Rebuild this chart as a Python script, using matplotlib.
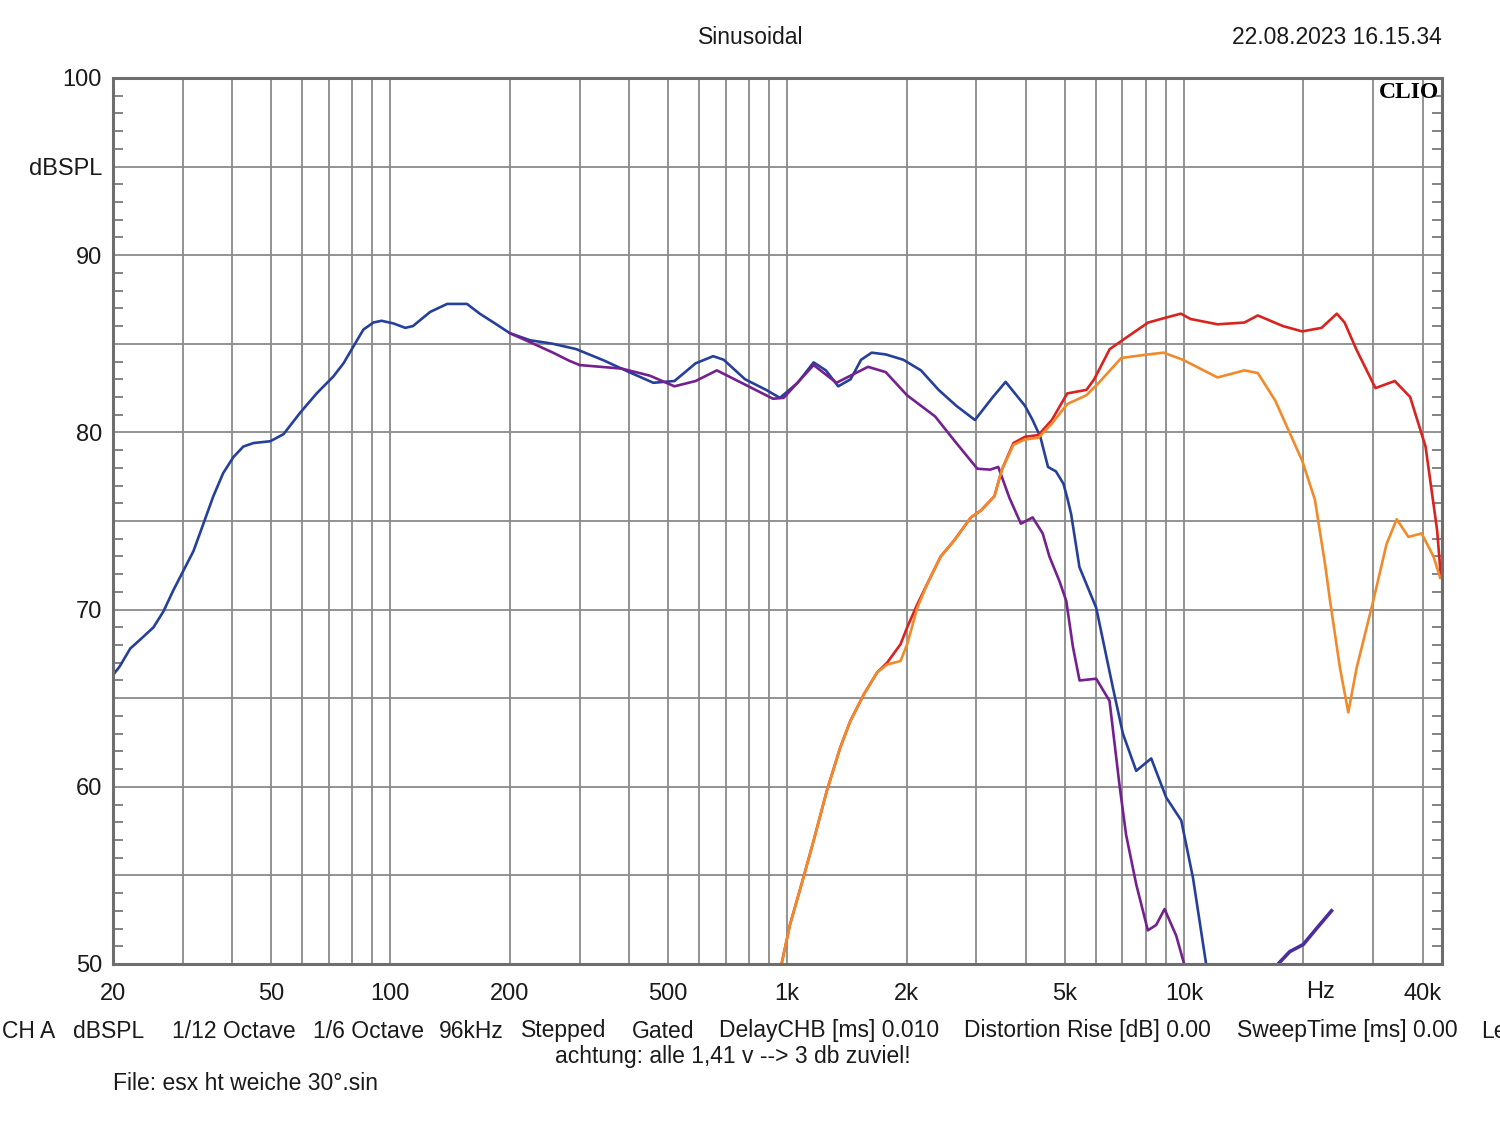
import numpy as np
import matplotlib
matplotlib.use("Agg")
import matplotlib.pyplot as plt
from matplotlib.ticker import FixedLocator, MultipleLocator

plt.rcParams['font.family'] = ['Liberation Sans', 'DejaVu Sans']

# ---- data (Hz, dBSPL) ----
blue_freq = [20, 20.8, 22.1, 23.4, 25.3, 26.8, 28.4, 30.1, 31.9, 33.8, 35.8, 37.9, 40.2, 42.6,
             45.2, 49.8, 53.8, 59.2, 65.2, 71.8, 76.2, 80.7, 85.5, 90.6, 95, 101.8, 109, 114,
             126, 139, 156, 168, 185, 200, 225, 257, 294, 346, 400, 460, 520, 588, 651, 692,
             783, 885, 959, 1063, 1166, 1252, 1345, 1445, 1536, 1633, 1772, 1962, 2174, 2408,
             2669, 2973, 3300, 3553, 3975, 4155, 4346, 4543, 4757, 4970, 5094, 5195, 5452,
             5664, 6010, 6620, 7017, 7580, 8270, 9020, 9845, 10540, 11390, 11800]
blue_db = [66.3, 66.8, 67.8, 68.3, 69.0, 69.9, 71.1, 72.2, 73.3, 74.85, 76.4, 77.7, 78.6, 79.2,
           79.4, 79.5, 79.9, 81.1, 82.2, 83.15, 83.9, 84.85, 85.8, 86.2, 86.3, 86.15, 85.9, 86.0,
           86.8, 87.25, 87.25, 86.7, 86.1, 85.6, 85.2, 85.0, 84.7, 84.05, 83.4, 82.8, 82.9, 83.9,
           84.3, 84.1, 83.0, 82.4, 81.95, 82.8, 83.95, 83.5, 82.6, 83.0, 84.1, 84.5, 84.4, 84.1,
           83.5, 82.4, 81.5, 80.7, 82.0, 82.85, 81.5, 80.7, 79.75, 78.05, 77.8, 77.1, 76.2, 75.4,
           72.4, 71.5, 70.1, 65.6, 63.0, 60.9, 61.6, 59.4, 58.1, 54.85, 49.9, 48.0]

purple_freq = [200, 224.5, 257, 282, 300, 383, 451, 520, 588, 665, 783, 921, 980, 1166, 1331,
               1599, 1772, 2004, 2360, 2669, 3015, 3250, 3404, 3633, 3882, 4157, 4405, 4580,
               4856, 5050, 5250, 5456, 6010, 6492, 6879, 7147, 7580, 8110, 8510, 8935, 9560,
               10040, 10300]
purple_db = [85.6, 85.1, 84.5, 84.05, 83.8, 83.6, 83.2, 82.6, 82.9, 83.5, 82.7, 81.9, 81.95, 83.8,
             82.8, 83.7, 83.4, 82.1, 80.9, 79.4, 77.95, 77.9, 78.05, 76.3, 74.85, 75.2, 74.3, 73.0,
             71.6, 70.5, 67.9, 66.0, 66.1, 64.85, 60.1, 57.3, 54.5, 51.9, 52.2, 53.1, 51.6,
             49.9, 48.0]

tail_freq = [16600, 17100, 18480, 19980, 21580, 23540]
tail_db = [49.0, 49.9, 50.7, 51.1, 52.0, 53.0]

red_freq = [940, 968, 1016, 1098, 1164, 1258, 1360, 1442, 1559, 1685, 1786, 1931, 2007, 2128,
            2254, 2438, 2635, 2904, 3081, 3329, 3477, 3718, 3975, 4297, 4645, 5081, 5680, 5940,
            6500, 7102, 8124, 9085, 9822, 10390, 12150, 14200, 15350, 17760, 19860, 22220,
            24280, 25400, 27170, 30380, 33980, 37150, 40630, 43440, 44430]
red_db = [48.5, 50.0, 52.2, 54.85, 56.9, 59.75, 62.2, 63.7, 65.2, 66.45, 67.0, 68.05, 69.0, 70.3,
          71.45, 73.0, 73.9, 75.2, 75.6, 76.4, 77.9, 79.4, 79.75, 79.85, 80.7, 82.2, 82.4, 83.0,
          84.7, 85.3, 86.2, 86.5, 86.7, 86.4, 86.1, 86.2, 86.6, 86.0, 85.7, 85.9,
          86.7, 86.2, 84.7, 82.5, 82.9, 82.0, 79.2, 74.5, 71.8]

orange_freq = [940, 968, 1016, 1098, 1164, 1258, 1360, 1442, 1559, 1685, 1786, 1931, 2007, 2128,
               2254, 2438, 2635, 2904, 3081, 3329, 3477, 3718, 3975, 4297, 4645, 5081, 5680,
               6100, 6950, 8124, 8885, 9933, 12150, 14200, 15350, 16980, 19860, 21380, 22700,
               23340, 24730, 25950, 27230, 30000, 32400, 34370, 36790, 39720, 42540, 44230]
orange_db = [48.5, 50.0, 52.2, 54.85, 56.9, 59.75, 62.2, 63.7, 65.2, 66.45, 66.9, 67.1, 68.05, 70.1,
             71.45, 73.0, 73.9, 75.2, 75.6, 76.4, 77.9, 79.3, 79.6, 79.7, 80.5, 81.6, 82.1,
             82.8, 84.2, 84.4, 84.5, 84.1, 83.1, 83.5, 83.35, 81.8, 78.4, 76.2, 72.5,
             70.5, 66.7, 64.2, 66.7, 70.5, 73.7, 75.1, 74.1, 74.3, 73.0, 71.8]

x_grid = [20, 30, 40, 50, 60, 70, 80, 90, 100, 200, 300, 400, 500, 600, 700, 800, 900,
          1000, 2000, 3000, 4000, 5000, 6000, 7000, 8000, 9000, 10000, 20000, 30000, 40000]
x_labeled = {20: '20', 50: '50', 100: '100', 200: '200', 500: '500', 1000: '1k',
             2000: '2k', 5000: '5k', 10000: '10k', 40000: '40k'}
y_ticks = [50, 55, 60, 65, 70, 75, 80, 85, 90, 95, 100]
y_tick_labels = ['50', '', '60', '', '70', '', '80', '', '90', 'dBSPL', '100']

fig = plt.figure(figsize=(15, 11.21), dpi=100)
ax = fig.add_axes([113 / 1500, 1 - 964 / 1121, (1442 - 113) / 1500, (964 - 78) / 1121])

ax.set_xscale('log')
ax.set_xlim(20, 44700)
ax.set_ylim(50, 100)

grid_col = '#8a8a8a'
for f in x_grid:
    ax.axvline(f, color=grid_col, lw=1.3, zorder=1)
for y in y_ticks:
    ax.axhline(y, color=grid_col, lw=1.3, zorder=1)

lw = 1.9
ax.plot(blue_freq, blue_db, color='#25409a', lw=lw, zorder=3)
ax.plot(purple_freq, purple_db, color='#74208f', lw=lw, zorder=4)
ax.plot(tail_freq, tail_db, color='#4a2f9c', lw=2.6, zorder=4)
ax.plot(red_freq, red_db, color='#d8231f', lw=lw, zorder=5)
ax.plot(orange_freq, orange_db, color='#f08a2a', lw=lw, zorder=6)

# axes ticks
ax.xaxis.set_major_locator(FixedLocator(x_grid))
ax.xaxis.set_minor_locator(FixedLocator([]))
ax.set_xticklabels([x_labeled.get(f, '') for f in x_grid])
ax.set_yticks(y_ticks)
ax.set_yticklabels(y_tick_labels)
ax.yaxis.set_minor_locator(MultipleLocator(1))
ax.tick_params(axis='both', which='major', length=0, labelsize=17, colors='#1a1a1a')
ax.tick_params(axis='x', which='major', pad=14)
ax.tick_params(axis='y', which='major', pad=8)
ax.tick_params(axis='y', which='minor', direction='in', length=7, width=1.2,
               color='#6e6e6e', left=True, right=True)

for s in ax.spines.values():
    s.set_color('#6e6e6e')
    s.set_linewidth(2.2)
    s.set_zorder(7)

# unit label sitting in the x tick row
fig.text(1321 / 1500, 1 - 992 / 1121, 'Hz', ha='center', va='center', fontsize=17,
         color='#1a1a1a')

# CLIO logo
ax.text(0.998, 0.995, 'CLIO', transform=ax.transAxes, ha='right', va='top',
        fontsize=17, fontweight='bold', family='Liberation Serif', color='black', zorder=8)

# header
fig.text(751 / 1500, 1 - 38 / 1121, 'Sinusoidal', ha='center', va='center', fontsize=16.5,
         color='#1a1a1a')
fig.text(1442 / 1500, 1 - 38 / 1121, '22.08.2023 16.15.34', ha='right', va='center',
         fontsize=16.5, color='#1a1a1a')

# footer info line (last item runs off the right edge, as in the original screenshot)
info_items = [(2, 'CH A'), (73, 'dBSPL'), (172, '1/12 Octave'), (313, '1/6 Octave'),
              (439, '96kHz'), (521, 'Stepped'), (632, 'Gated'), (719, 'DelayCHB [ms] 0.010'),
              (964, 'Distortion Rise [dB] 0.00'), (1237, 'SweepTime [ms] 0.00'), (1481, 'Le')]
for xp, txt in info_items:
    fig.text(xp / 1500, 1 - 1031 / 1121, txt, ha='left', va='center', fontsize=16.5,
             color='#1a1a1a')
fig.text(733 / 1500, 1 - 1057 / 1121, 'achtung: alle 1,41 v --> 3 db zuviel!', ha='center',
         va='center', fontsize=16.5, color='#1a1a1a')
fig.text(113 / 1500, 1 - 1083 / 1121, 'File: esx ht weiche 30°.sin', ha='left', va='center',
         fontsize=16.5, color='#1a1a1a')

fig.savefig('out.png', dpi=100, facecolor='white')
